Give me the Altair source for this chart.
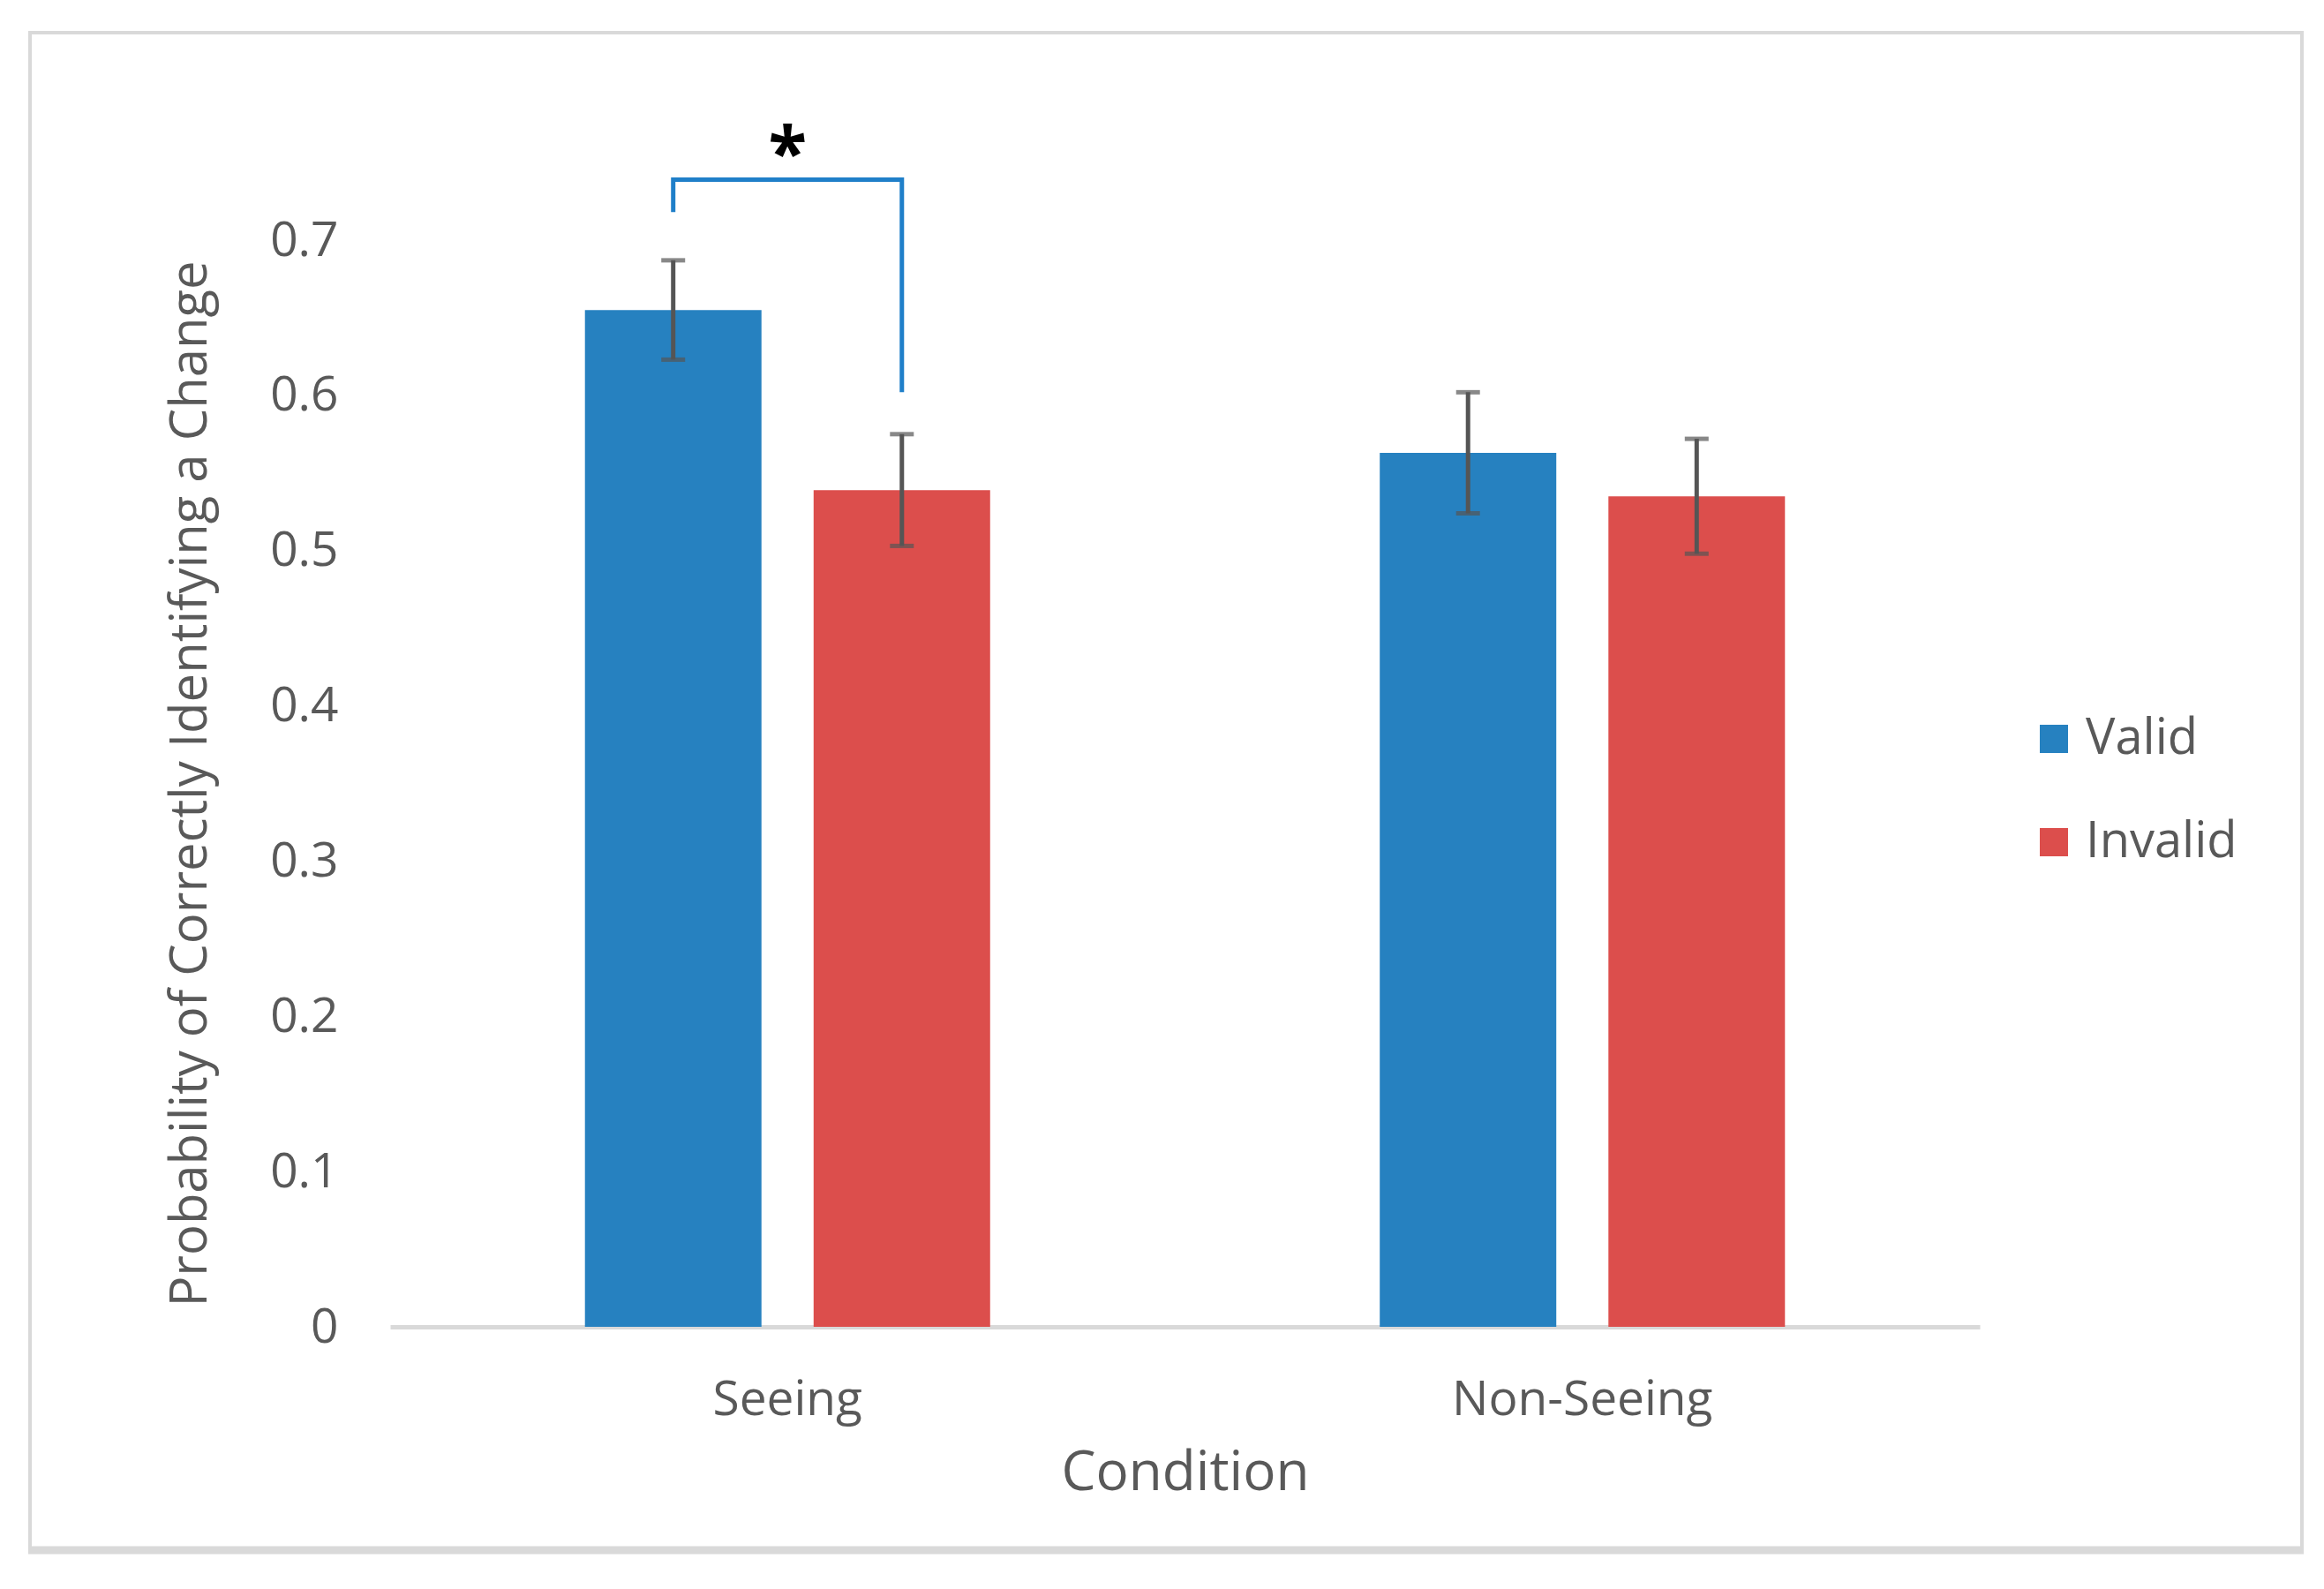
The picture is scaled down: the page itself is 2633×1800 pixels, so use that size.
import altair as alt
import pandas as pd

conditions = ["Seeing", "Non-Seeing"]
groups = ["Valid", "Invalid"]
valid_means = [0.655, 0.563]
invalid_means = [0.539, 0.535]
valid_err = [0.032, 0.039]
invalid_err = [0.036, 0.037]

bracket_group = ["Valid", "Valid", "Invalid", "Invalid"]
bracket_y = [0.718, 0.739, 0.739, 0.602]
star_y = [0.762]

rows = []
for i, c in enumerate(conditions):
    rows.append({"Condition": c, "Group": "Valid", "mean": valid_means[i],
                 "lo": valid_means[i] - valid_err[i], "hi": valid_means[i] + valid_err[i]})
    rows.append({"Condition": c, "Group": "Invalid", "mean": invalid_means[i],
                 "lo": invalid_means[i] - invalid_err[i], "hi": invalid_means[i] + invalid_err[i]})
df = pd.DataFrame(rows)

caps = pd.concat([
    df[["Condition", "Group", "lo"]].rename(columns={"lo": "v"}),
    df[["Condition", "Group", "hi"]].rename(columns={"hi": "v"}),
])

bracket = pd.DataFrame({
    "Condition": ["Seeing"] * 4,
    "Group": bracket_group,
    "y": bracket_y,
    "order": list(range(4)),
})
star = pd.DataFrame({"Condition": ["Seeing"], "y": star_y, "t": ["*"]})

GRAY = "#595959"

xenc = alt.X(
    "Condition:N", sort=conditions,
    scale=alt.Scale(paddingInner=0, paddingOuter=0),
    axis=alt.Axis(
        title="Condition", labelAngle=0, ticks=False, domain=True,
        domainColor="#d9d9d9", domainWidth=5, labelFontSize=55,
        labelColor=GRAY, labelPadding=56, labelLimit=0, titleFontSize=62,
        titleColor=GRAY, titleFontWeight="normal", titlePadding=25,
    ),
)
xoff = alt.XOffset("Group:N", sort=groups,
                   scale=alt.Scale(paddingInner=0.228, paddingOuter=0.852))
yscale = alt.Scale(domain=[0, 0.7], nice=False)

bars = alt.Chart(df).mark_bar().encode(
    x=xenc,
    xOffset=xoff,
    y=alt.Y("mean:Q", scale=yscale, axis=alt.Axis(
        title="Probability of Correctly Identifying a Change",
        values=[0, 0.1, 0.2, 0.3, 0.4, 0.5, 0.6, 0.7], format=".1~f",
        grid=False, domain=False, ticks=False, labelFontSize=55,
        labelColor=GRAY, labelPadding=59, titleFontSize=58,
        titleColor=GRAY, titleFontWeight="normal", titlePadding=60,
        titleLimit=0,
    )),
    color=alt.Color("Group:N", sort=groups,
                    scale=alt.Scale(domain=groups, range=["#2681c0", "#dc4e4c"]),
                    legend=alt.Legend(
                        title=None, orient="none", legendX=1857, legendY=537,
                        symbolType="square", symbolSize=1024, symbolStrokeWidth=0,
                        labelFontSize=56, labelColor=GRAY, rowPadding=61,
                        labelOffset=8, padding=0, labelLimit=0,
                    )),
)

err = alt.Chart(df).mark_rule(color="#555555", strokeWidth=5).encode(
    x=alt.X("Condition:N", sort=conditions),
    xOffset=alt.XOffset("Group:N", sort=groups),
    y=alt.Y("lo:Q"),
    y2="hi:Q",
)

cap = alt.Chart(caps).mark_tick(color="#555555", thickness=5, size=27).encode(
    x=alt.X("Condition:N", sort=conditions),
    xOffset=alt.XOffset("Group:N", sort=groups),
    y=alt.Y("v:Q"),
)

br = alt.Chart(bracket).mark_line(color="#1f7fc9", strokeWidth=5, strokeCap="butt").encode(
    x=alt.X("Condition:N", sort=conditions),
    xOffset=alt.XOffset("Group:N", sort=groups),
    y=alt.Y("y:Q"),
    order="order:Q",
)

st = alt.Chart(star).mark_text(fontSize=80, fontWeight="bold", color="black",
                                baseline="middle", dy=14).encode(
    x=alt.X("Condition:N", sort=conditions),
    y=alt.Y("y:Q"),
    text="t:N",
)

frame_df = pd.DataFrame({"k": [0]})
frame = alt.Chart(frame_df).mark_rect(fill=None, fillOpacity=0, stroke="#d9d9d9", strokeWidth=4).encode(
    x=alt.value(-408), x2=alt.value(2166), y=alt.value(-235), y2=alt.value(1483),
)
frame_bottom = alt.Chart(frame_df).mark_rule(color="#d9d9d9", strokeWidth=9).encode(
    x=alt.value(-410), x2=alt.value(2168), y=alt.value(1484),
)

chart = alt.layer(frame, frame_bottom, bars, err, cap, br, st).properties(
    width=1801, height=1231,
    autosize=alt.AutoSizeParams(type="none"),
    padding={"left": 434, "top": 264, "right": 382, "bottom": 289},
).configure(font="Open Sans").configure_view(stroke=None)

chart.save("out.html", embed_options={"renderer": "svg", "actions": False})
